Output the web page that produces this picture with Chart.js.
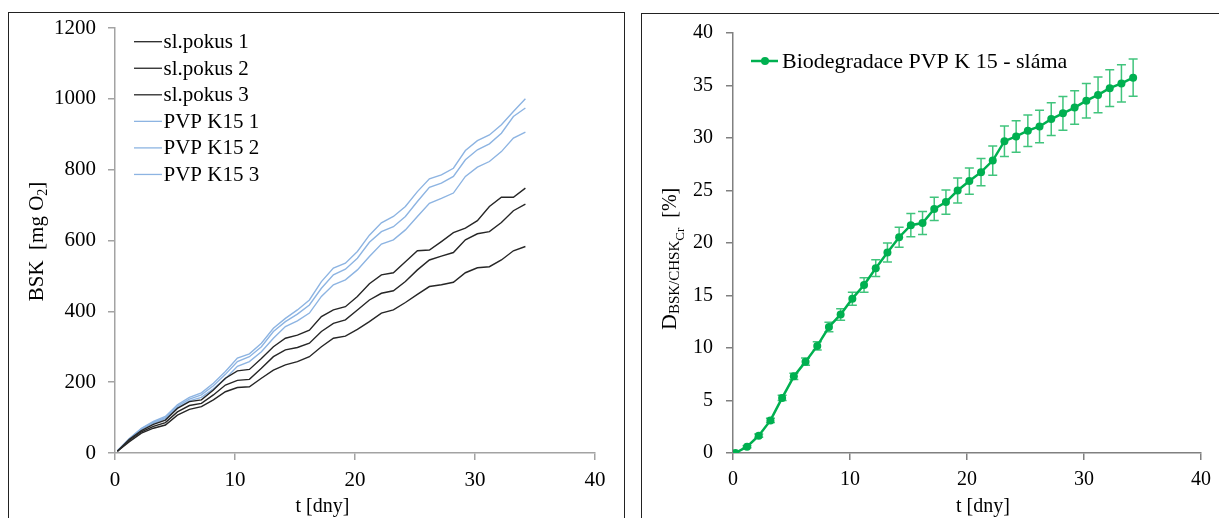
<!DOCTYPE html>
<html><head><meta charset="utf-8">
<script src="https://cdn.jsdelivr.net/npm/chart.js@4.4.0/dist/chart.umd.min.js"></script>
<style>
html,body{margin:0;padding:0;background:#fff;overflow:hidden;}
body{width:1219px;height:518px;position:relative;}
.panel{position:absolute;border:1px solid #222;box-sizing:border-box;}
#p1{left:8px;top:12px;width:617px;height:600px;}
#p2{left:641px;top:13px;width:700px;height:600px;}
canvas{position:absolute;}
#c1{left:0;top:0;}
#c2{left:625px;top:0;}
</style></head><body>
<div class="panel" id="p1"></div><div class="panel" id="p2"></div>
<canvas id="c1" width="622" height="518"></canvas>
<canvas id="c2" width="594" height="518"></canvas>
<script>
// ---- data ----
const days = [0.2,1.2,2.2,3.2,4.2,5.2,6.2,7.2,8.2,9.2,10.2,11.2,12.2,13.2,14.2,15.2,16.2,17.2,18.2,19.2,20.2,21.2,22.2,23.2,24.2,25.2,26.2,27.2,28.2,29.2,30.2,31.2,32.2,33.2,34.2];
const slPokus1 = [5,39,63,81,93,126,145,150,178,211,232,236,267,300,324,333,347,385,404,413,442,478,503,509,540,571,573,597,622,635,656,696,722,722,748];
const slPokus2 = [5,36,60,75,86,116,134,140,164,192,205,208,239,272,291,298,310,343,366,376,404,432,451,458,484,517,545,556,566,602,619,625,651,684,703];
const slPokus3 = [5,32,56,70,79,107,123,131,150,173,185,187,211,234,249,258,272,300,324,330,349,371,395,404,425,448,470,475,482,509,523,526,545,571,583];
const pvp1 = [6,41,70,89,103,136,157,170,197,230,268,280,310,352,380,404,432,484,522,536,569,615,650,668,696,738,774,785,804,854,882,898,927,964,1000];
const pvp2 = [6,40,68,87,100,132,152,164,190,222,258,272,300,343,371,392,418,465,503,519,550,595,625,639,668,710,750,762,781,828,856,873,903,950,974];
const pvp3 = [6,39,66,84,97,128,147,157,181,210,245,258,286,324,357,373,395,442,475,489,517,555,590,602,630,668,705,719,734,781,807,823,851,889,906];
const leftLabels = ['sl.pokus 1','sl.pokus 2','sl.pokus 3','PVP K15 1','PVP K15 2','PVP K15 3'];
const bioDeg = [0,0.6,1.65,3.1,5.25,7.3,8.7,10.2,12.0,13.2,14.7,16.0,17.6,19.1,20.55,21.7,21.9,23.25,23.9,25.0,25.9,26.75,27.85,29.7,30.15,30.7,31.1,31.8,32.35,32.9,33.55,34.1,34.75,35.2,35.75];
const bioErr = [0,0.1,0.15,0.2,0.25,0.3,0.35,0.4,0.45,0.55,0.62,0.7,0.8,0.9,0.95,1.1,1.1,1.1,1.15,1.2,1.25,1.3,1.4,1.45,1.5,1.5,1.55,1.55,1.6,1.6,1.65,1.7,1.75,1.78,1.78];
const rightLabel = 'Biodegradace PVP K 15 - sláma';
const xTicks = [0,10,20,30,40];
const yTicksLeft = [0,200,400,600,800,1000,1200];
const yTicksRight = [0,5,10,15,20,25,30,35,40];

const FONT = "'Liberation Serif','Times New Roman',serif";
const BLACK = '#262626', BLUE = '#8db4e2', GREEN = '#00b050';

function pts(ys){ return ys.map((y,i)=>({x:days[i], y:y})); }

function rotRuns(ctx, xBase, yStart, runs, center){
  ctx.save();
  ctx.fillStyle = '#000';
  ctx.textBaseline = 'alphabetic'; ctx.textAlign = 'left';
  let total = 0;
  for (const r of runs){ ctx.font = r.size+'px '+FONT; total += ctx.measureText(r.text).width; }
  const y0 = center ? yStart + total/2 : yStart;
  ctx.translate(xBase, y0); ctx.rotate(-Math.PI/2);
  let x = 0;
  for (const r of runs){ ctx.font = r.size+'px '+FONT; ctx.fillText(r.text, x, r.dy||0); x += ctx.measureText(r.text).width; }
  ctx.restore();
}

const leftDecor = {
  id:'leftDecor',
  afterDraw(chart){
    const ctx = chart.ctx;
    chart.data.datasets.forEach((ds,i)=>{
      const y = 41.7 + 26.55*i;
      ctx.save();
      ctx.strokeStyle = ds.borderColor; ctx.lineWidth = 1.3;
      ctx.beginPath(); ctx.moveTo(134,y); ctx.lineTo(162,y); ctx.stroke();
      ctx.fillStyle = '#000'; ctx.font = '21px '+FONT; ctx.textBaseline='middle'; ctx.textAlign='left';
      ctx.fillText(ds.label, 163.5, y+1);
      ctx.restore();
    });
    rotRuns(ctx, 43, 241.5, [{text:'BSK  [mg O',size:21},{text:'2',size:14,dy:4},{text:']',size:21}], true);
    ctx.save(); ctx.fillStyle='#000'; ctx.font='20px '+FONT; ctx.textAlign='center'; ctx.textBaseline='alphabetic';
    ctx.fillText('t [dny]', 322.5, 512); ctx.restore();
  }
};

const rightDecor = {
  id:'rightDecor',
  beforeDatasetsDraw(chart){
    const ctx = chart.ctx, xs = chart.scales.x, ys = chart.scales.y;
    ctx.save();
    ctx.strokeStyle = 'rgba(0,176,80,0.75)'; ctx.lineWidth = 1.5;
    bioDeg.forEach((v,i)=>{
      const e = bioErr[i]; if (!e) return;
      const px = xs.getPixelForValue(days[i]);
      const t = ys.getPixelForValue(v+e), b = ys.getPixelForValue(v-e);
      ctx.beginPath();
      ctx.moveTo(px,t); ctx.lineTo(px,b);
      ctx.moveTo(px-4.5,t); ctx.lineTo(px+4.5,t);
      ctx.moveTo(px-4.5,b); ctx.lineTo(px+4.5,b);
      ctx.stroke();
    });
    ctx.restore();
  },
  afterDraw(chart){
    const ctx = chart.ctx;
    const ds = chart.data.datasets[0];
    ctx.save();
    const y = 61;
    ctx.strokeStyle = GREEN; ctx.lineWidth = 2.5;
    ctx.beginPath(); ctx.moveTo(751-625,y); ctx.lineTo(778-625,y); ctx.stroke();
    ctx.fillStyle = GREEN; ctx.beginPath(); ctx.arc(765-625,y,4,0,Math.PI*2); ctx.fill();
    ctx.fillStyle = '#000'; ctx.font = '22px '+FONT; ctx.textBaseline='middle'; ctx.textAlign='left';
    ctx.fillText(ds.label, 782-625, y+1);
    ctx.restore();
    rotRuns(ctx, 676-625, 330, [{text:'D',size:22},{text:'BSK/CHSK',size:15,dy:3},{text:'Cr',size:13,dy:8},{text:'  [%]',size:20}], false);
    ctx.save(); ctx.fillStyle='#000'; ctx.font='20px '+FONT; ctx.textAlign='center'; ctx.textBaseline='alphabetic';
    ctx.fillText('t [dny]', 983-625, 512); ctx.restore();
  }
};

function axis(min,max,ticksArr,color,fontSize,pad,fitFn){
  return {
    type:'linear', min:min, max:max,
    afterBuildTicks(s){ s.ticks = ticksArr.map(v=>({value:v})); },
    ticks:{color:'#000', font:{family:FONT, size:fontSize}, padding:pad, callback:(v)=>String(v)},
    grid:{drawOnChartArea:false, tickLength:7, color:color, lineWidth:1.5},
    border:{color:color, width:1.5},
    afterFit: fitFn
  };
}

new Chart(document.getElementById('c1'), {
  type:'line',
  data:{datasets:[
    {label:leftLabels[0], data:pts(slPokus1), borderColor:BLACK},
    {label:leftLabels[1], data:pts(slPokus2), borderColor:BLACK},
    {label:leftLabels[2], data:pts(slPokus3), borderColor:BLACK},
    {label:leftLabels[3], data:pts(pvp1), borderColor:BLUE},
    {label:leftLabels[4], data:pts(pvp2), borderColor:BLUE},
    {label:leftLabels[5], data:pts(pvp3), borderColor:BLUE}
  ].map(d=>Object.assign(d,{borderWidth:1.4, pointRadius:0, fill:false, tension:0}))},
  options:{
    responsive:false, animation:false, devicePixelRatio:1,
    layout:{padding:{top:28,right:27,left:0,bottom:0}},
    plugins:{legend:{display:false}, tooltip:{enabled:false}},
    scales:{
      x: axis(0,40,xTicks,'#a3a3a3',21,8,s=>{s.height=65;}),
      y: axis(0,1200,yTicksLeft,'#a3a3a3',21,12,s=>{s.width=115;})
    }
  },
  plugins:[leftDecor]
});

new Chart(document.getElementById('c2'), {
  type:'line',
  data:{datasets:[
    {label:rightLabel, data:pts(bioDeg), borderColor:GREEN, backgroundColor:GREEN, borderWidth:2.5,
     pointRadius:4, pointBorderWidth:0, pointBackgroundColor:GREEN, fill:false, tension:0}
  ]},
  options:{
    responsive:false, animation:false, devicePixelRatio:1,
    layout:{padding:{top:33,right:12,left:0,bottom:0}},
    plugins:{legend:{display:false}, tooltip:{enabled:false}},
    scales:{
      x: axis(0,40,xTicks,'#808080',20,8,s=>{s.height=65;}),
      y: axis(0,40,yTicksRight,'#808080',20,13,s=>{s.width=108;})
    }
  },
  plugins:[rightDecor]
});
</script>
</body></html>
